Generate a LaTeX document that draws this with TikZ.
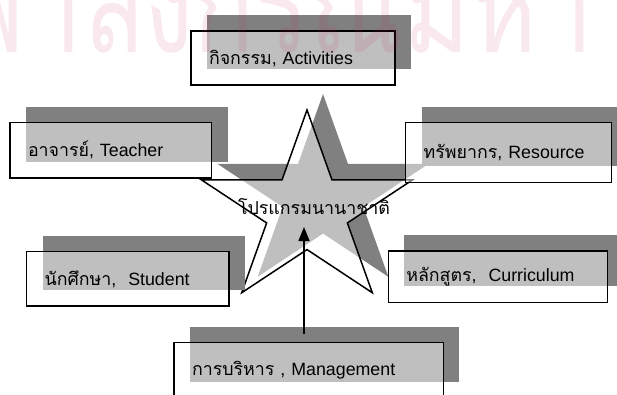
\documentclass[tikz,border=0pt]{standalone}
\usepackage{fontspec}
\setmainfont{Liberation Sans}
\newfontfamily\thaifont[Script=Thai]{Loma}
\usepackage{xcolor}
\usetikzlibrary{shapes.geometric,shadows,arrows.meta}
\definecolor{color_shadow}{rgb}{0.501961,0.501961,0.501961}
\definecolor{color_mark}{rgb}{0.784314,0.156863,0.352941}
\newcommand{\boxfont}{\fontsize{17.8}{20}\selectfont}

\begin{document}
\begin{tikzpicture}[x=1pt,y=-1pt,
		ombre/.style={general shadow={fill=color_shadow, fill opacity=1, shadow xshift=16pt, shadow yshift=16pt}},
		cadre/.style={draw, line width=1.5pt, fill=white, fill opacity=0.5, text opacity=1, ombre,
			inner xsep=18pt, inner ysep=0pt, align=left, font=\boxfont},
		fleche/.style={line width=1.5pt, -{Triangle[width=11pt,length=14pt]}}]
			% Cadre de la page
			\useasboundingbox (0,0) rectangle (617,394);
			
			% Etoile centrale
			\node[star, star points=5, star point ratio=2.618, minimum size=202pt, inner sep=0pt, xscale=1.1,
				draw, line width=1.5pt, fill=white, fill opacity=0.5, ombre] (hub) at (307,211) {};
			\node[font=\boxfont] (hubtext) at (314,207) {\thaifont โปรแกรมนานาชาติ};
			
			% Les six domaines
			\node[cadre, text width=168pt, minimum height=54pt] (activities) at (293,58) {{\thaifont กิจกรรม}, Activities};
			\node[cadre, text width=165.5pt, minimum height=55.5pt] (teacher) at (110.75,150.25) {{\thaifont อาจารย์}, Teacher};
			\node[cadre, text width=170pt, minimum height=59.6pt] (resource) at (508.7,152.5) {{\thaifont ทรัพยากร},\ Resource};
			\node[cadre, text width=166.3pt, minimum height=54.3pt] (student) at (127.85,278.85) {{\thaifont นักศึกษา},\ \ Student};
			\node[cadre, text width=183.4pt, minimum height=51.3pt] (curriculum) at (498,276.7) {{\thaifont หลักสูตร},\ \ Curriculum};
			\node[cadre, text width=233.3pt, minimum height=55.6pt] (management) at (308.7,370.5) {{\thaifont การบริหาร} , Management};
			
			% Fleche vers l'etoile
			\coordinate (pied) at (304,334);
			\coordinate (pointe) at (304,227);
			\draw[fleche] (pied) -- (pointe);
			
			% Filigrane
			\node[anchor=base west, inner sep=0pt, font=\fontsize{135}{135}\selectfont\thaifont,
				text=color_mark, text opacity=0.1, xscale=0.75] (filigrane) at (-44,52) {ฬาลงกรณ์มหาวิทยาลัย};
		\end{tikzpicture}
\end{document}
